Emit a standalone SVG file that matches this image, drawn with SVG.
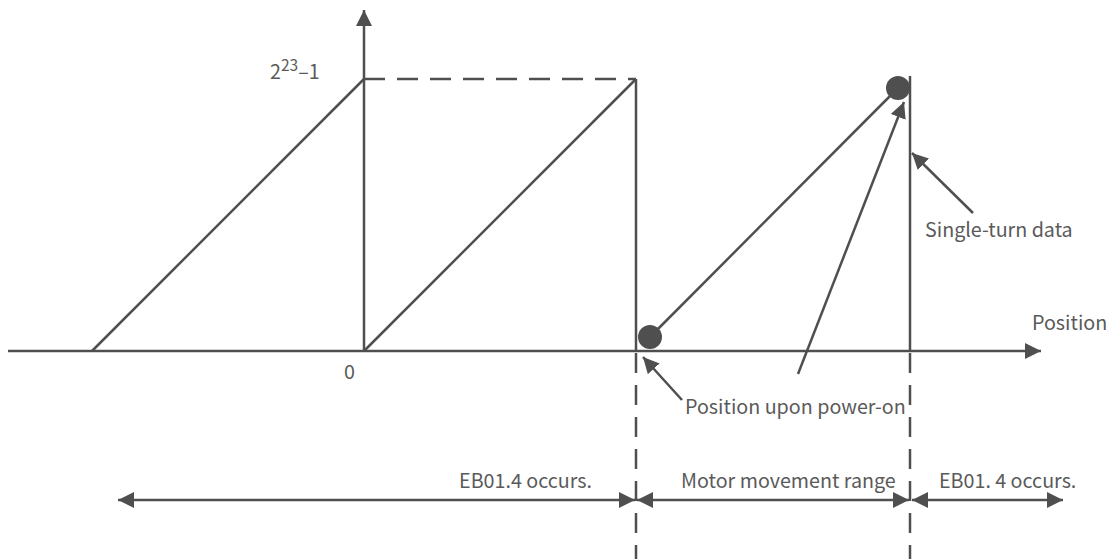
<svg xmlns="http://www.w3.org/2000/svg" width="1119" height="559" viewBox="0 0 1119 559">
<style>
.ln{stroke:#4f4f4f;stroke-width:2.5;fill:none}
.ds{stroke:#4f4f4f;stroke-width:2.5;fill:none;stroke-dasharray:21 12}
.dv{stroke:#4f4f4f;stroke-width:2.5;fill:none;stroke-dasharray:20 12}
.tx{font-family:"Noto Sans CJK SC","Noto Sans",sans-serif;font-size:19.7px;fill:#5a5a5a}
.dot{fill:#4f4f4f}
</style>
<defs>
<marker id="ah" markerUnits="userSpaceOnUse" markerWidth="17" markerHeight="16" refX="16" refY="8" orient="auto-start-reverse" viewBox="0 0 17 16">
<path d="M0,0 L16,8 L0,16 z" fill="#4f4f4f"/>
</marker>
</defs>
<rect width="1119" height="559" fill="#ffffff"/>
<g id="connectors">
<line class="ln" x1="8" y1="351" x2="1041" y2="351" marker-end="url(#ah)"/>
<line class="ln" x1="364" y1="351" x2="364" y2="10" marker-end="url(#ah)"/>
<line class="ds" x1="364" y1="79" x2="636" y2="79"/>
<line class="ln" x1="92" y1="351" x2="364" y2="79"/>
<line class="ln" x1="364" y1="351" x2="636" y2="79"/>
<line class="ln" x1="636" y1="79" x2="636" y2="351"/>
<line class="dv" x1="636" y1="353" x2="636" y2="559"/>
<line class="ln" x1="650" y1="337" x2="898" y2="88"/>
<line class="ln" x1="910" y1="76" x2="910" y2="351"/>
<line class="dv" x1="910" y1="353" x2="910" y2="559"/>
<line class="ln" x1="973" y1="213" x2="912" y2="153" marker-end="url(#ah)"/>
<line class="ln" x1="798" y1="374" x2="904" y2="102" marker-end="url(#ah)"/>
<line class="ln" x1="682" y1="400" x2="643" y2="357" marker-end="url(#ah)"/>
<line class="ln" x1="118" y1="500" x2="635" y2="500" marker-start="url(#ah)" marker-end="url(#ah)"/>
<line class="ln" x1="637" y1="500" x2="909" y2="500" marker-start="url(#ah)" marker-end="url(#ah)"/>
<line class="ln" x1="912" y1="500" x2="1063" y2="500" marker-start="url(#ah)" marker-end="url(#ah)"/>
</g>
<g id="dot-start"><circle class="dot" cx="650" cy="337" r="12"/></g>
<g id="dot-end"><circle class="dot" cx="898" cy="88" r="12"/></g>
<g id="label-max"><text class="tx" x="270" y="79">2<tspan font-size="15.5" dy="-8">23</tspan><tspan dy="8">–1</tspan></text></g>
<g id="label-zero"><text class="tx" x="344" y="379">0</text></g>
<g id="label-position"><text class="tx" x="1032" y="330">Position</text></g>
<g id="label-single"><text class="tx" x="925" y="237">Single-turn data</text></g>
<g id="label-poweron"><text class="tx" x="685" y="414">Position upon power-on</text></g>
<g id="label-eb-left"><text class="tx" x="592" y="488" text-anchor="end">EB01.4 occurs.</text></g>
<g id="label-range"><text class="tx" x="681" y="488">Motor movement range</text></g>
<g id="label-eb-right"><text class="tx" x="939" y="488">EB01. 4 occurs.</text></g>
</svg>
